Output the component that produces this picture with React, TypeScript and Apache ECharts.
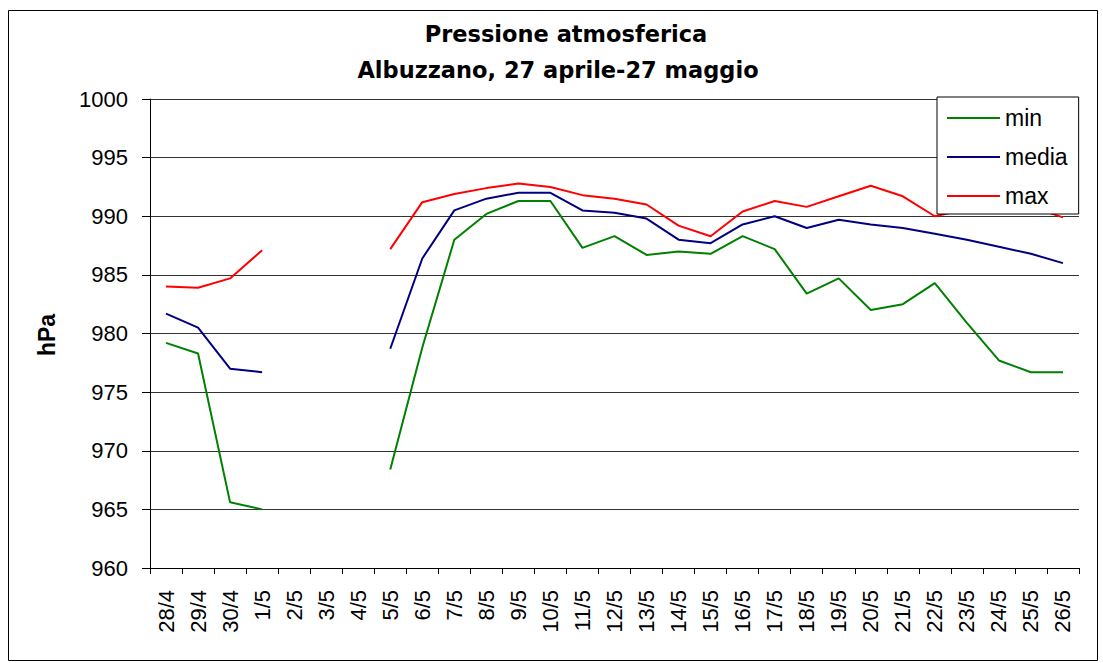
import React, { useEffect, useRef } from "react";
import * as echarts from "echarts";

const categories = [
  "28/4", "29/4", "30/4", "1/5", "2/5", "3/5", "4/5", "5/5", "6/5", "7/5",
  "8/5", "9/5", "10/5", "11/5", "12/5", "13/5", "14/5", "15/5", "16/5", "17/5",
  "18/5", "19/5", "20/5", "21/5", "22/5", "23/5", "24/5", "25/5", "26/5",
];

const minValues = [
  979.2, 978.3, 965.6, 965.0, null, null, null, 968.4, 978.8, 988.0,
  990.2, 991.3, 991.3, 987.3, 988.3, 986.7, 987.0, 986.8, 988.3, 987.2,
  983.4, 984.7, 982.0, 982.5, 984.3, 980.9, 977.7, 976.7, 976.7,
];

const mediaValues = [
  981.7, 980.5, 977.0, 976.7, null, null, null, 978.7, 986.4, 990.5,
  991.5, 992.0, 992.0, 990.5, 990.3, 989.8, 988.0, 987.7, 989.3, 990.0,
  989.0, 989.7, 989.3, 989.0, 988.5, 988.0, 987.4, 986.8, 986.0,
];

const maxValues = [
  984.0, 983.9, 984.7, 987.1, null, null, null, 987.2, 991.2, 991.9,
  992.4, 992.8, 992.5, 991.8, 991.5, 991.0, 989.2, 988.3, 990.4, 991.3,
  990.8, 991.7, 992.6, 991.7, 990.0, 990.6, 990.8, 990.8, 989.9,
];

const titleLines = ["Pressione atmosferica", "Albuzzano, 27 aprile-27 maggio"];
const yAxisName = "hPa";

export default function App() {
  const ref = useRef<HTMLDivElement>(null);

  useEffect(() => {
    document.body.style.margin = "0";
    if (!ref.current) return;
    const chart = echarts.init(ref.current, null, { renderer: "svg" });
    const axisFont = "'Liberation Sans', Arial, sans-serif";
    const mkSeries = (name: string, data: (number | null)[], color: string) => ({
      name,
      type: "line",
      data,
      symbol: "none",
      connectNulls: false,
      lineStyle: { color, width: 2 },
      itemStyle: { color },
    });
    const titleStyle = {
      fontFamily: "'DejaVu Sans', sans-serif",
      fontWeight: "bold",
      fontSize: 22.5,
      fill: "#000",
      align: "center",
      verticalAlign: "middle",
    };
    chart.setOption({
      animation: false,
      backgroundColor: "#ffffff",
      grid: { left: 150, right: 24, top: 99, bottom: 95, containLabel: false },
      legend: {
        orient: "vertical",
        left: 937,
        top: 97,
        padding: [9, 11, 6, 10],
        backgroundColor: "#ffffff",
        borderColor: "#000000",
        borderWidth: 1,
        borderRadius: 0,
        itemWidth: 53,
        itemHeight: 2,
        itemGap: 15,
        icon: "rect",
        textStyle: {
          fontFamily: axisFont,
          fontSize: 23,
          color: "#000",
          lineHeight: 24,
        },
        data: ["min", "media", "max"],
      },
      xAxis: {
        type: "category",
        data: categories,
        boundaryGap: true,
        axisLine: { show: true, lineStyle: { color: "#000", width: 1 } },
        axisTick: { show: true, inside: false, length: 6, interval: 0, lineStyle: { color: "#000" } },
        axisLabel: {
          interval: 0,
          rotate: 90,
          margin: 22,
          fontFamily: axisFont,
          fontSize: 22,
          color: "#000",
        },
        splitLine: { show: false },
      },
      yAxis: {
        type: "value",
        min: 960,
        max: 1000,
        interval: 5,
        axisLine: { show: true, lineStyle: { color: "#000", width: 1 } },
        axisTick: { show: true, inside: false, length: 8, lineStyle: { color: "#000" } },
        axisLabel: {
          margin: 22,
          fontFamily: axisFont,
          fontSize: 22,
          color: "#000",
          formatter: (v: number) => String(v),
        },
        splitLine: { show: true, lineStyle: { color: "#333", width: 1 } },
      },
      graphic: [
        {
          type: "rect",
          shape: { x: 8.5, y: 10.5, width: 1089, height: 650 },
          style: { fill: "none", stroke: "#000", lineWidth: 1 },
          silent: true,
          z: -10,
        },
        {
          type: "text",
          x: 566,
          y: 34,
          style: { ...titleStyle, text: titleLines[0] },
        },
        {
          type: "text",
          x: 558,
          y: 70,
          style: { ...titleStyle, text: titleLines[1] },
        },
        {
          type: "text",
          x: 47,
          y: 335,
          rotation: Math.PI / 2,
          style: {
            text: yAxisName,
            fontFamily: axisFont,
            fontWeight: "bold",
            fontSize: 23,
            fill: "#000",
            align: "center",
            verticalAlign: "middle",
          },
        },
      ],
      series: [
        mkSeries("min", minValues, "#008000"),
        mkSeries("media", mediaValues, "#000080"),
        mkSeries("max", maxValues, "#ff0000"),
      ],
    });
    return () => chart.dispose();
  }, []);

  return <div ref={ref} style={{ width: 1103, height: 663 }} />;
}
